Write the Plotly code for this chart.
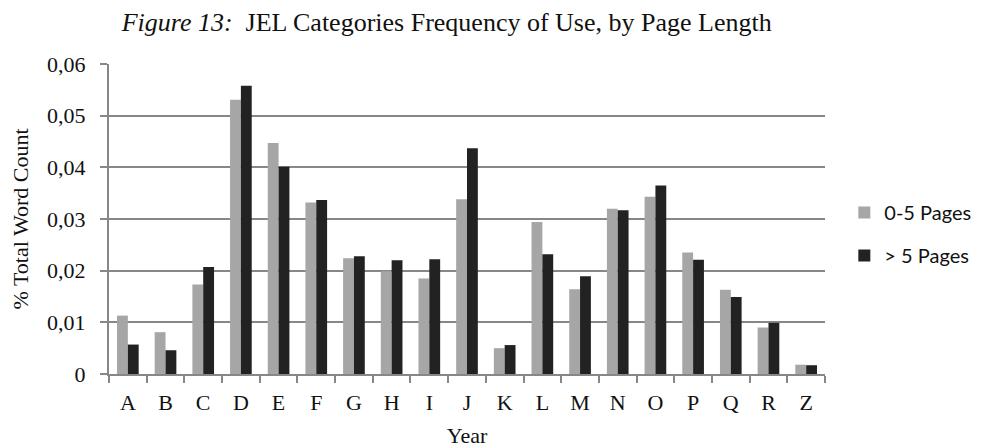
import plotly.graph_objects as go

categories = ["A", "B", "C", "D", "E", "F", "G", "H", "I", "J",
              "K", "L", "M", "N", "O", "P", "Q", "R", "Z"]
short_pages = [0.0113, 0.0081, 0.0173, 0.0531, 0.0447, 0.0332, 0.0224, 0.0199, 0.0185, 0.0338,
               0.0050, 0.0294, 0.0164, 0.0320, 0.0343, 0.0235, 0.0163, 0.0090, 0.0018]
long_pages = [0.0057, 0.0046, 0.0207, 0.0558, 0.0401, 0.0337, 0.0228, 0.0220, 0.0222, 0.0437,
              0.0056, 0.0232, 0.0189, 0.0317, 0.0365, 0.0221, 0.0149, 0.0099, 0.0017]
y_ticks = [0, 0.01, 0.02, 0.03, 0.04, 0.05, 0.06]
y_tick_labels = ["0", "0,01", "0,02", "0,03", "0,04", "0,05", "0,06"]

serif = "Liberation Serif"
grid = "#878787"
ink = "#111111"

fig = go.Figure()
fig.add_trace(go.Bar(x=categories, y=short_pages, name="0-5 Pages", legendgroup="short",
                     marker=dict(color="#a6a6a6", line=dict(width=0))))
fig.add_trace(go.Bar(x=categories, y=long_pages, name="> 5 Pages", legendgroup="long",
                     marker=dict(color="#222222", line=dict(width=0))))

# page has an 8px body margin, so the figure is a bit smaller than the window
fig.update_layout(
    width=977,
    height=440,
    paper_bgcolor="white",
    plot_bgcolor="white",
    barmode="group",
    bargap=0.425,
    bargroupgap=0,
    margin=dict(l=101, r=160, t=56, b=74, autoexpand=False),
    title=dict(
        text="<i>Figure 13:</i>&nbsp; JEL Categories Frequency of Use, by Page Length",
        xref="container", x=0.449, xanchor="center",
        yref="container", y=0.968, yanchor="middle",
        font=dict(family=serif, size=26, color=ink),
    ),
    xaxis=dict(
        title=dict(text="Year", font=dict(family=serif, size=22, color=ink), standoff=16),
        tickfont=dict(family=serif, size=22, color=ink),
        showline=True, linecolor=grid, linewidth=2,
        ticks="outside", ticklen=7, tickcolor=grid, tickwidth=2,
        tickson="boundaries",
        ticklabelstandoff=8,
        showgrid=False,
        automargin=False,
    ),
    yaxis=dict(
        title=dict(text="% Total Word Count", font=dict(family=serif, size=22, color=ink), standoff=16),
        tickfont=dict(family=serif, size=22, color=ink),
        range=[0, 0.06],
        tickvals=y_ticks,
        ticktext=y_tick_labels,
        showline=True, linecolor=grid, linewidth=2,
        ticks="outside", ticklen=7, tickcolor=grid, tickwidth=2,
        ticklabelstandoff=10,
        showgrid=True, gridcolor=grid, gridwidth=2,
        zeroline=False,
        automargin=False,
    ),
    legend=dict(
        x=1.027, xanchor="left", y=0.452, yanchor="middle",
        font=dict(family="Lato", size=20, color=ink),
        tracegroupgap=14,
        itemsizing="constant",
    ),
)

fig.write_html("out.html")
